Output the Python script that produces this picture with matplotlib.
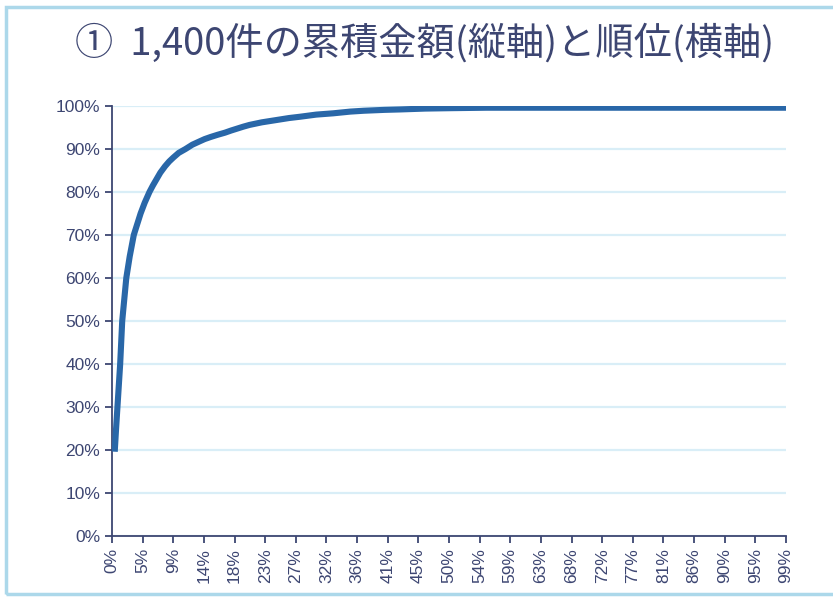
import matplotlib

matplotlib.use("Agg")
import matplotlib.pyplot as plt
import numpy as np
from matplotlib.patches import Rectangle
from matplotlib.ticker import FuncFormatter

# rank position (% of 1,400 items) vs cumulative amount (%)
rank_pct = [0.4, 0.6, 0.8, 1.0, 1.2, 1.35, 1.5, 1.65, 1.8, 2.1, 2.35, 2.6,
            2.9, 3.2, 3.7, 4.2, 4.8, 5.5, 6.0, 7.1, 7.8, 8.4, 9.0, 9.8,
            10.8, 11.8, 12.9, 13.6, 14.5, 15.5, 16.6, 17.5, 18.5, 19.3,
            20.2, 22.0, 24.0, 26.0, 27.6, 30.0, 32.5, 35.0, 37.0, 40.0,
            42.3, 46.0, 50.0, 55.0, 64.4, 99.0]
cum_pct = [19.6, 25.0, 30.0, 35.0, 40.0, 45.0, 50.0, 52.5, 55.0, 60.0, 62.5,
           65.0, 67.5, 70.0, 72.5, 75.0, 77.5, 80.0, 81.5, 84.5, 86.0, 87.1,
           88.0, 89.1, 90.0, 91.0, 91.8, 92.3, 92.8, 93.3, 93.8, 94.3, 94.8,
           95.2, 95.6, 96.2, 96.7, 97.2, 97.5, 98.0, 98.3, 98.7, 98.9, 99.1,
           99.2, 99.4, 99.5, 99.6, 99.6, 99.6]

x_tick_labels = ["0%", "5%", "9%", "14%", "18%", "23%", "27%", "32%", "36%",
                 "41%", "45%", "50%", "54%", "59%", "63%", "68%", "72%", "77%",
                 "81%", "86%", "90%", "95%", "99%"]
x_tick_step = 4.5
y_ticks = [0, 10, 20, 30, 40, 50, 60, 70, 80, 90, 100]

title = "①  1,400件の累積金額(縦軸)と順位(横軸)"

navy = "#3d4672"
line_blue = "#2967a8"
grid_blue = "#d9eef7"
frame_blue = "#acd8ea"

fig = plt.figure(figsize=(8.33, 5.97), dpi=100)
ax = fig.add_axes([112 / 833, 61 / 597, 674 / 833, 430 / 597])

ax.plot(rank_pct, cum_pct, color=line_blue, lw=4.4,
        solid_capstyle="butt", solid_joinstyle="round", zorder=3)

ax.set_xlim(0, x_tick_step * (len(x_tick_labels) - 1))
ax.set_ylim(0, 100)

ax.set_yticks(y_ticks)
ax.yaxis.set_major_formatter(FuncFormatter(lambda v, _: f"{v:.0f}%"))
ax.set_xticks(np.arange(len(x_tick_labels)) * x_tick_step)
ax.set_xticklabels(x_tick_labels, rotation=90)

ax.grid(axis="y", color=grid_blue, lw=1.6, zorder=0)
ax.set_axisbelow(True)

for side in ("top", "right"):
    ax.spines[side].set_visible(False)
for side in ("left", "bottom"):
    ax.spines[side].set_color(navy)
    ax.spines[side].set_linewidth(1.3)

ax.tick_params(axis="both", colors=navy, length=5, width=1.3,
               labelsize=12.5, labelcolor=navy)
for lbl in ax.get_xticklabels() + ax.get_yticklabels():
    lbl.set_fontfamily(["Liberation Sans", "DejaVu Sans"])

fig.text(0.51, 1 - 44 / 597, title, ha="center", va="center",
         fontsize=27.5, color=navy,
         family=["Noto Sans CJK JP", "DejaVu Sans"])

# light blue frame around the panel
fig.patches.append(Rectangle((6 / 833, 3.5 / 597), 1.0, 587 / 597,
                             transform=fig.transFigure, fill=False,
                             edgecolor=frame_blue, lw=2.5, zorder=0))

fig.savefig("out.png", dpi=100)
plt.close(fig)
